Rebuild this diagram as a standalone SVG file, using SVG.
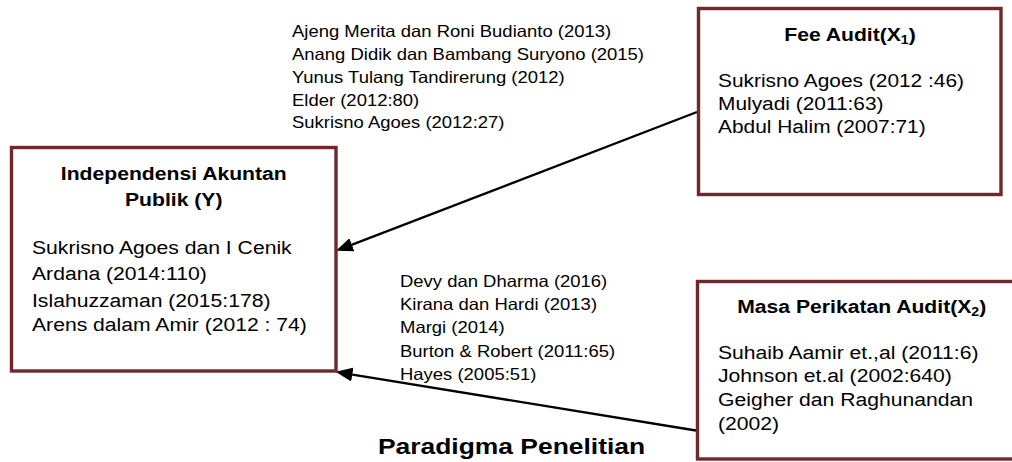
<svg xmlns="http://www.w3.org/2000/svg" width="1012" height="462" viewBox="0 0 1012 462">
<style>
.box{fill:#fff;stroke:#6E2A2A;stroke-width:3.4}
text{font-family:"Liberation Sans",Arial,Helvetica,sans-serif;fill:#000}
.t{font-size:18px;font-weight:bold}
.b{font-size:18px}
.l{font-size:16.5px}
.p{font-size:21.5px;font-weight:bold}
.sub{font-size:12px}
.conn{stroke:#000;stroke-width:2.3;fill:none;marker-end:url(#ah)}
</style>
<defs>
<marker id="ah" viewBox="0 0 17 14" refX="6" refY="7" markerWidth="17" markerHeight="14" markerUnits="userSpaceOnUse" orient="auto">
<path d="M0,0 L17,7 L0,14 Z" fill="#000"/>
</marker>
</defs>
<rect width="1012" height="462" fill="#fff"/>

<g id="connectors">
<line class="conn" x1="697" y1="112" x2="346.3" y2="246.9"/>
<line class="conn" x1="696" y1="430.5" x2="346.4" y2="373.6"/>
</g>

<g id="node-y">
<rect class="box" x="11.5" y="147.5" width="324.5" height="223.5"/>
<text class="t" text-anchor="middle" transform="translate(173.75 0) scale(1.175 1)"><tspan x="0" y="180">Independensi Akuntan</tspan><tspan x="0" y="206">Publik (Y)</tspan></text>
<text class="b" transform="translate(32 0) scale(1.175 1)"><tspan x="0" y="254">Sukrisno Agoes dan I Cenik</tspan><tspan x="0" y="280">Ardana (2014:110)</tspan><tspan x="0" y="306.7">Islahuzzaman (2015:178)</tspan><tspan x="0" y="330.7">Arens dalam Amir (2012 : 74)</tspan></text>
</g>

<g id="node-x1">
<rect class="box" x="698.5" y="8.5" width="302.5" height="186"/>
<text class="t" text-anchor="middle" transform="translate(850 0) scale(1.175 1)"><tspan x="0" y="40.7">Fee Audit(X</tspan><tspan class="sub" dy="3">1</tspan><tspan dy="-3">)</tspan></text>
<text class="b" transform="translate(718 0) scale(1.16 1)"><tspan x="0" y="87.3">Sukrisno Agoes (2012 :46)</tspan><tspan x="0" y="110">Mulyadi (2011:63)</tspan><tspan x="0" y="132.7">Abdul Halim (2007:71)</tspan></text>
</g>

<g id="node-x2">
<rect class="box" x="697.5" y="281.5" width="330" height="177.5"/>
<text class="t" text-anchor="middle" transform="translate(861.7 0) scale(1.175 1)"><tspan x="0" y="313.3">Masa Perikatan Audit(X</tspan><tspan class="sub" dy="3">2</tspan><tspan dy="-3">)</tspan></text>
<text class="b" transform="translate(718 0) scale(1.175 1)"><tspan x="0" y="359.5">Suhaib Aamir et.,al (2011:6)</tspan><tspan x="0" y="382.5">Johnson et.al (2002:640)</tspan><tspan x="0" y="406.5">Geigher dan Raghunandan</tspan><tspan x="0" y="430">(2002)</tspan></text>
</g>

<g id="label-x1-y">
<text class="l" transform="translate(292 0) scale(1.12 1)"><tspan x="0" y="37.5">Ajeng Merita dan Roni Budianto (2013)</tspan><tspan x="0" y="60.2">Anang Didik dan Bambang Suryono (2015)</tspan><tspan x="0" y="82.9">Yunus Tulang Tandirerung (2012)</tspan><tspan x="0" y="105.6">Elder (2012:80)</tspan><tspan x="0" y="128.3">Sukrisno Agoes (2012:27)</tspan></text>
</g>

<g id="label-x2-y">
<text class="l" transform="translate(400 0) scale(1.12 1)"><tspan x="0" y="286.7">Devy dan Dharma (2016)</tspan><tspan x="0" y="310">Kirana dan Hardi (2013)</tspan><tspan x="0" y="332.7">Margi (2014)</tspan><tspan x="0" y="356.7">Burton &amp; Robert (2011:65)</tspan><tspan x="0" y="380">Hayes (2005:51)</tspan></text>
</g>

<g id="caption">
<text class="p" text-anchor="middle" transform="translate(511.5 0) scale(1.23 1)"><tspan x="0" y="454">Paradigma Penelitian</tspan></text>
</g>
</svg>
